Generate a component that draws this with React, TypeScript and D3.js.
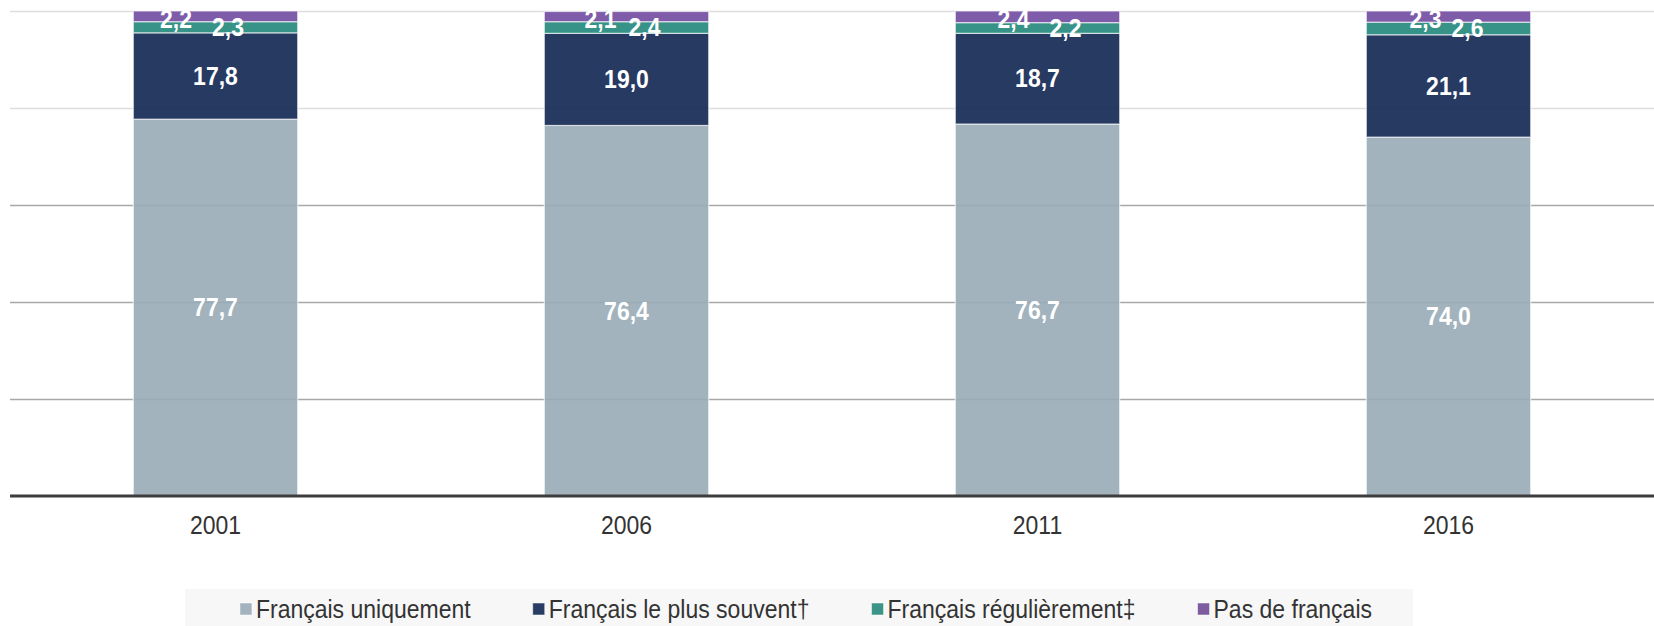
import React, { useMemo } from "react";
import * as d3 from "d3";

const years = ["2001", "2006", "2011", "2016"];
const uniquement = [77.7, 76.4, 76.7, 74.0];
const plusSouvent = [17.8, 19.0, 18.7, 21.1];
const regulierement = [2.3, 2.4, 2.2, 2.6];
const pasFrancais = [2.2, 2.1, 2.4, 2.3];
const seriesNames = [
  "Français uniquement",
  "Français le plus souvent†",
  "Français régulièrement‡",
  "Pas de français",
];
const yTicks = [0, 20, 40, 60, 80, 100];

// styling
const colors = ["#98abb7", "#102551", "#21877a", "#704aa0"];
const legendColors = ["#a2b3be", "#283c64", "#3a9588", "#7e5ca0"];
const W = 1654;
const H = 626;
const plot = { left: 10, right: 1654, top: 11, bottom: 496 };
// small-label horizontal nudges (label collision avoidance in original)
const smallNudge = {
  reg: [12.5, 18, 28, 19],
  pas: [-39.5, -26, -24, -23],
};
const FONT = "'Liberation Sans', Arial, Helvetica, sans-serif";
const STRETCH = 1.09;

const fmt = (v: number) => d3.format(".1f")(v).replace(".", ",");

function T(props: {
  x: number;
  cy: number;
  fs: number;
  anchor?: string;
  bold?: boolean;
  fill: string;
  children: React.ReactNode;
}) {
  const { x, cy, fs, anchor = "middle", bold, fill, children } = props;
  return (
    <g transform={`translate(${x},${cy}) scale(1,${STRETCH})`}>
      <text
        x={0}
        y={0.35 * fs}
        textAnchor={anchor as any}
        fontSize={fs}
        fontWeight={bold ? "bold" : "normal"}
        fill={fill}
      >
        {children}
      </text>
    </g>
  );
}

export default function App() {
  const x = d3
    .scaleBand<string>()
    .domain(years)
    .range([plot.left, plot.right])
    .paddingInner(0.6)
    .paddingOuter(0.3);
  const y = d3.scaleLinear().domain([0, 100]).range([plot.bottom, plot.top]);

  const table = years.map((yr, i) => ({
    year: yr,
    s0: uniquement[i],
    s1: plusSouvent[i],
    s2: regulierement[i],
    s3: pasFrancais[i],
  }));
  const stack = d3.stack<any>().keys(["s0", "s1", "s2", "s3"])(table);

  const legendFs = 23;
  const widths = useMemo(() => {
    const c = document.createElement("canvas").getContext("2d")!;
    c.font = `${legendFs}px ${FONT}`;
    return seriesNames.map((n) => c.measureText(n).width);
  }, []);
  const sq = 12;
  const pad = 4;
  const gap = 62;
  const total =
    widths.reduce((a, b) => a + b, 0) + seriesNames.length * (sq + pad) + gap * (seriesNames.length - 1);
  const legendCenter = 806;
  let cursor = legendCenter - total / 2;
  const legendItems = seriesNames.map((n, i) => {
    const item = { name: n, x: cursor, color: legendColors[i] };
    cursor += sq + pad + widths[i] + gap;
    return item;
  });
  const legendY = 609;

  const gridColor = (t: number) => (t >= 80 ? "#dedede" : "#a8a8a8");
  const cx = (i: number) => x(years[i])! + x.bandwidth() / 2;

  return (
    <svg
      width={W}
      height={H}
      style={{ position: "absolute", left: 0, top: 0, display: "block", background: "#fff" }}
      fontFamily={FONT}
    >
      {/* gridlines */}
      {yTicks
        .filter((t) => t > 0)
        .map((t) => (
          <line
            key={t}
            x1={plot.left}
            x2={plot.right}
            y1={Math.round(y(t)) + 0.5}
            y2={Math.round(y(t)) + 0.5}
            stroke={gridColor(t)}
            strokeWidth={1.5}
          />
        ))}
      {/* bars */}
      {stack.map((layer, si) =>
        layer.map((d, i) => (
          <rect
            key={`${si}-${i}`}
            x={x(years[i])!}
            width={x.bandwidth()}
            y={y(d[1])}
            height={y(d[0]) - y(d[1])}
            fill={colors[si]}
            fillOpacity={0.9}
            stroke="#ffffff"
            strokeOpacity={0.65}
            strokeWidth={1.2}
          />
        ))
      )}
      {/* baseline */}
      <line x1={plot.left} x2={plot.right} y1={y(0)} y2={y(0)} stroke="#3d3d3d" strokeWidth={3} />
      {/* big labels */}
      {stack.slice(0, 2).map((layer, si) =>
        layer.map((d, i) => (
          <T key={`l${si}-${i}`} x={cx(i)} cy={(y(d[0]) + y(d[1])) / 2} fs={23} bold fill="#fff">
            {fmt(d[1] - d[0])}
          </T>
        ))
      )}
      {/* small labels */}
      {stack[2].map((d, i) => (
        <T key={`r${i}`} x={cx(i) + smallNudge.reg[i]} cy={(y(d[0]) + y(d[1])) / 2} fs={23} bold fill="#fff">
          {fmt(d[1] - d[0])}
        </T>
      ))}
      {stack[3].map((d, i) => (
        <T key={`p${i}`} x={cx(i) + smallNudge.pas[i]} cy={(y(d[0]) + y(d[1])) / 2 + 2.5} fs={23} bold fill="#fff">
          {fmt(d[1] - d[0])}
        </T>
      ))}
      {/* x tick labels */}
      {years.map((yr, i) => (
        <T key={yr} x={cx(i)} cy={525} fs={23} fill="#333">
          {yr}
        </T>
      ))}
      {/* legend */}
      <rect x={185} y={589} width={1228} height={40} fill="#f7f7f7" />
      {legendItems.map((it) => (
        <g key={it.name}>
          <rect x={it.x} y={legendY - sq / 2} width={sq} height={sq} fill={it.color} stroke="#fff" strokeOpacity={0.5} />
          <T x={it.x + sq + pad} cy={legendY} fs={legendFs} anchor="start" fill="#333">
            {it.name}
          </T>
        </g>
      ))}
    </svg>
  );
}
